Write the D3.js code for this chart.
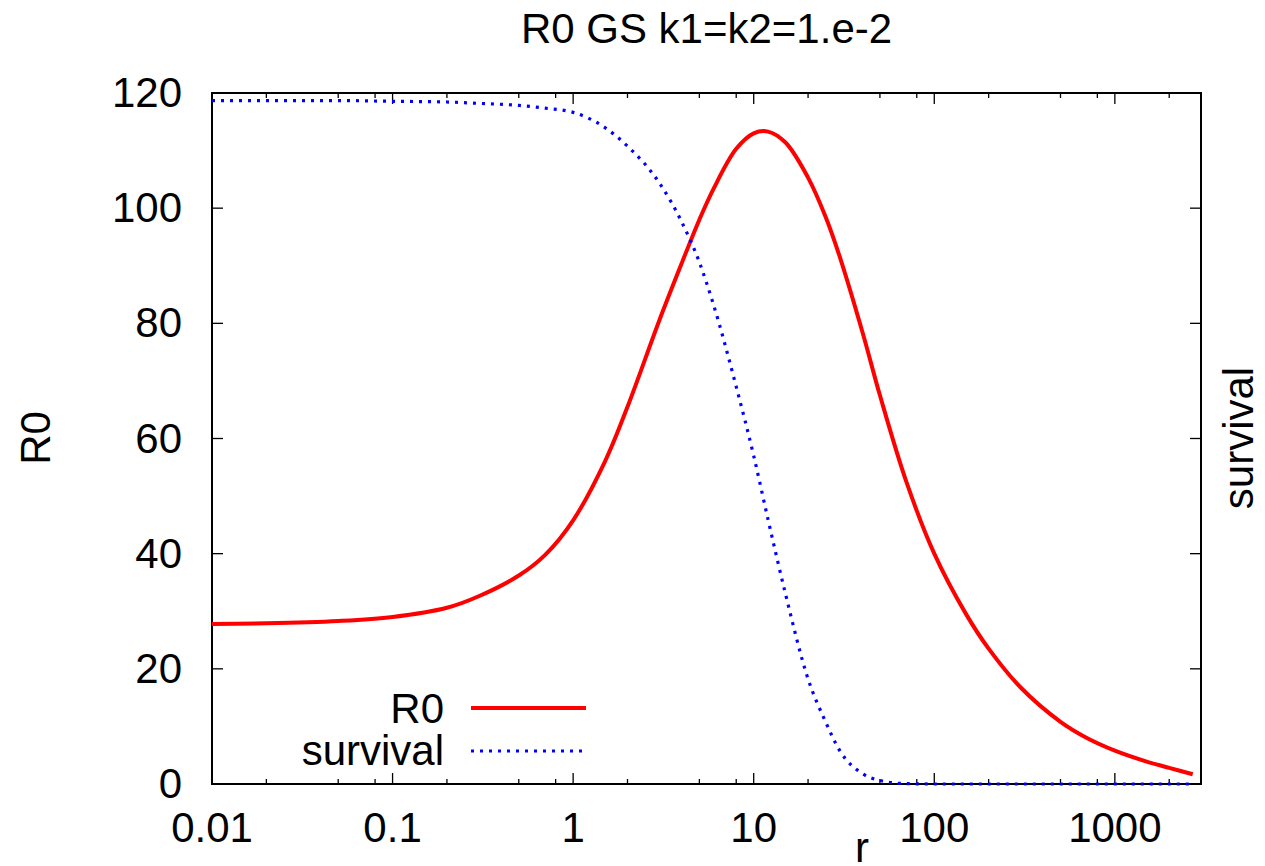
<!DOCTYPE html>
<html>
<head>
<meta charset="utf-8">
<script src="https://cdn.jsdelivr.net/npm/d3@7"></script>
<style>
  body { margin: 0; background: #fff; }
  svg { display: block; }
  text { font-family: "Liberation Sans", Arial, sans-serif; font-size: 42px; fill: #000; }
</style>
</head>
<body>
<div id="chart"></div>
<script>
// Data
var rValues = [0.01, 0.02, 0.05, 0.1, 0.2, 0.3, 0.5, 0.7, 1, 1.5, 2, 3, 4, 5, 6, 8, 10, 12, 15, 20,
               25, 30, 40, 50, 70, 100, 150, 200, 300, 500, 700, 1000, 1500, 2000, 2700];
var r0Values = [27.8, 27.9, 28.3, 29.0, 30.6, 32.6, 36.2, 39.8, 45.8, 56.0, 65.5, 80.5, 90.5, 98.0, 103.4,
                110.3, 113.0, 113.3, 111.4, 105.3, 98.5, 91.5, 78.5, 67.5, 52.5, 40.0, 29.5, 23.5, 16.8,
                10.8, 8.0, 5.8, 3.9, 2.8, 1.7];
var survivalValues = [0.989, 0.989, 0.989, 0.988, 0.987, 0.985, 0.982, 0.978, 0.972, 0.950, 0.923, 0.870,
                      0.813, 0.755, 0.693, 0.575, 0.475, 0.383, 0.275, 0.152, 0.090, 0.048, 0.015, 0.005,
                      0.0005, 0, 0, 0, 0, 0, 0, 0, 0, 0, 0];

var xMajorTicks = [0.01, 0.1, 1, 10, 100, 1000];
var xTickLabels = ["0.01", "0.1", "1", "10", "100", "1000"];
var xMinorTicks = [0.02, 0.05, 0.08, 0.2, 0.5, 0.8, 2, 5, 8, 20, 50, 80, 200, 500, 800, 2000];
var yTicks = [0, 20, 40, 60, 80, 100, 120];

var width = 1265, height = 866;
// plot box (note: "top" is taken by window.top, so use other names)
var pLeft = 212, pRight = 1201, pTop = 93, pBottom = 784;
var majorLen = 11, minorLen = 5;

var svg = d3.select("#chart")
  .append("svg")
    .attr("width", width)
    .attr("height", height);

var x = d3.scaleLog().domain([0.01, 3000]).range([pLeft, pRight]);
var y = d3.scaleLinear().domain([0, 120]).range([pBottom, pTop]);
var y2 = d3.scaleLinear().domain([0, 1]).range([pBottom, pTop]);

// title
svg.append("text")
    .attr("x", (pLeft + pRight) / 2)
    .attr("y", 43)
    .attr("text-anchor", "middle")
    .text("R0 GS k1=k2=1.e-2");

// ticks: bottom + mirrored on top
var tickG = svg.append("g").attr("stroke", "#000").attr("stroke-width", 1.3);

function xTicks(cls, data, y0, len) {
  tickG.selectAll("line." + cls)
    .data(data)
    .enter()
    .append("line")
      .attr("class", cls)
      .attr("x1", function(d) { return x(d); })
      .attr("x2", function(d) { return x(d); })
      .attr("y1", y0)
      .attr("y2", y0 + len);
}
xTicks("xmaj", xMajorTicks, pBottom, -majorLen);
xTicks("xmajtop", xMajorTicks, pTop, majorLen);
xTicks("xmin", xMinorTicks, pBottom, -minorLen);
xTicks("xmintop", xMinorTicks, pTop, minorLen);

// y ticks left and right
tickG.selectAll("line.yl")
  .data(yTicks)
  .enter()
  .append("line")
    .attr("class", "yl")
    .attr("x1", pLeft)
    .attr("x2", pLeft + majorLen)
    .attr("y1", function(d) { return y(d); })
    .attr("y2", function(d) { return y(d); });
tickG.selectAll("line.yr")
  .data(yTicks)
  .enter()
  .append("line")
    .attr("class", "yr")
    .attr("x1", pRight)
    .attr("x2", pRight - majorLen)
    .attr("y1", function(d) { return y(d); })
    .attr("y2", function(d) { return y(d); });

// tick labels
svg.selectAll("text.xl")
  .data(xMajorTicks)
  .enter()
  .append("text")
    .attr("class", "xl")
    .attr("x", function(d) { return x(d); })
    .attr("y", 842)
    .attr("text-anchor", "middle")
    .text(function(d, i) { return xTickLabels[i]; });

svg.selectAll("text.yl")
  .data(yTicks)
  .enter()
  .append("text")
    .attr("class", "yl")
    .attr("x", 182)
    .attr("y", function(d) { return y(d) + 14; })
    .attr("text-anchor", "end")
    .text(function(d) { return d; });

// border
svg.append("rect")
    .attr("x", pLeft)
    .attr("y", pTop)
    .attr("width", pRight - pLeft)
    .attr("height", pBottom - pTop)
    .attr("fill", "none")
    .attr("stroke", "#000")
    .attr("stroke-width", 2);

// axis labels
svg.append("text")
    .attr("transform", "translate(50,438) rotate(-90)")
    .attr("text-anchor", "middle")
    .text("R0");
svg.append("text")
    .attr("transform", "translate(1253,438) rotate(-90)")
    .attr("text-anchor", "middle")
    .text("survival");
svg.append("text")
    .attr("x", 862)
    .attr("y", 862)
    .attr("text-anchor", "middle")
    .text("r");

// curves
var r0Line = d3.line()
    .x(function(d, i) { return x(rValues[i]); })
    .y(function(d) { return y(d); })
    .curve(d3.curveCatmullRom.alpha(0.5));
var survLine = d3.line()
    .x(function(d, i) { return x(rValues[i]); })
    .y(function(d) { return y2(d); })
    .curve(d3.curveMonotoneX);

svg.append("path")
    .attr("d", r0Line(r0Values))
    .attr("fill", "none")
    .attr("stroke", "#ff0000")
    .attr("stroke-width", 4);
svg.append("path")
    .attr("d", survLine(survivalValues))
    .attr("fill", "none")
    .attr("stroke", "#0000ff")
    .attr("stroke-width", 3.2)
    .attr("stroke-dasharray", "3,6");

// legend
svg.append("text")
    .attr("x", 444)
    .attr("y", 723)
    .attr("text-anchor", "end")
    .text("R0");
svg.append("line")
    .attr("x1", 471).attr("x2", 586)
    .attr("y1", 708).attr("y2", 708)
    .attr("stroke", "#ff0000")
    .attr("stroke-width", 4);
svg.append("text")
    .attr("x", 444)
    .attr("y", 765)
    .attr("text-anchor", "end")
    .text("survival");
svg.append("line")
    .attr("x1", 471).attr("x2", 584)
    .attr("y1", 751).attr("y2", 751)
    .attr("stroke", "#0000ff")
    .attr("stroke-width", 3.2)
    .attr("stroke-dasharray", "3,6");
</script>
</body>
</html>
